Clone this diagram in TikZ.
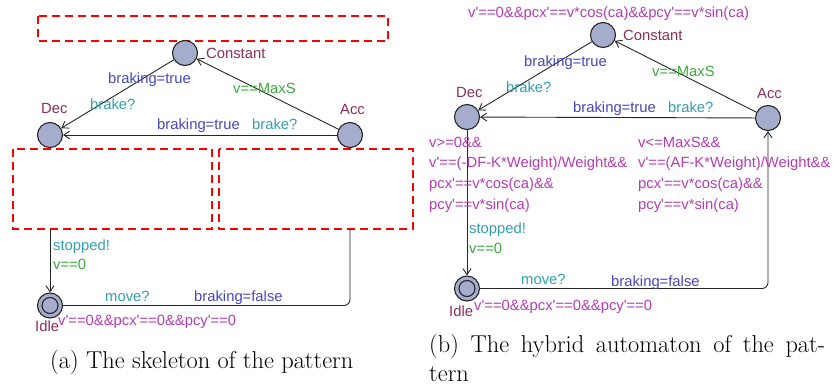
\documentclass[tikz,border=0pt]{standalone}
\usepackage{fontspec}
\newfontfamily\lblfont{Liberation Sans}
\usetikzlibrary{arrows.meta}
\definecolor{locfill}{RGB}{165,172,204}
\definecolor{locname}{RGB}{140,45,90}
\definecolor{assigncol}{RGB}{70,70,190}
\definecolor{synccol}{RGB}{50,160,175}
\definecolor{guardcol}{RGB}{60,170,60}
\definecolor{invcol}{RGB}{180,60,180}
\tikzset{
  loc/.style={circle, draw=black!85, fill=locfill, line width=1.1pt, minimum size=25pt, inner sep=0pt},
  locin/.style={circle, draw=black!85, line width=1.1pt, minimum size=16pt, inner sep=0pt},
  lbl/.style={inner sep=0pt, anchor=base west, font=\lblfont\fontsize{14.8}{17}\selectfont},
  nm/.style={lbl, text=locname},
  asg/.style={lbl, text=assigncol},
  syn/.style={lbl, text=synccol},
  grd/.style={lbl, text=guardcol},
  inv/.style={lbl, text=invcol},
  trans/.style={draw=black!85, line width=0.9pt, -{Straight Barb[length=6pt,width=8pt]}},
  plain/.style={draw=black!85, line width=0.9pt, rounded corners=6pt},
  hole/.style={draw=red, line width=2.2pt, dash pattern=on 8pt off 5pt},
  capt/.style={inner sep=0pt, anchor=base west, font=\fontsize{24.4}{29}\selectfont}
}
\begin{document}
\begin{tikzpicture}[x=1pt,y=-1pt]
\useasboundingbox (0,0) rectangle (837,389);

% ---------------- (a) skeleton ----------------
\draw[hole] (38,16) rectangle (388,41);
\draw[hole] (13,149) rectangle (212,229);
\draw[hole] (219,149) rectangle (413,229);

\node[loc] (conA) at (185,53) {};
\node[loc] (decA) at (50,135) {};
\node[loc] (accA) at (350,135) {};
\node[loc] (idleA) at (50,305.5) {};
\node[locin] (idleAin) at (50,305.5) {};
\coordinate (decAout) at (50,229);
\coordinate (accAin) at (350,229);

\draw[trans] (conA) -- (decA);
\draw[trans] (accA) -- (conA);
\draw[trans] (accA) -- (decA);
\draw[trans] (decAout) -- (idleA);
\draw[plain] (idleA.east) -| (accAin);

\node[nm] (conAname) at (206,58) {Constant};
\node[nm] (decAname) at (41,113) {Dec};
\node[nm] (accAname) at (340,114) {Acc};
\node[nm] (idleAname) at (35,331) {Idle};
\node[asg] (cdA1) at (108,83) {braking=true};
\node[syn] (cdA2) at (90,109) {brake?};
\node[grd] (acA1) at (233,93) {v==MaxS};
\node[asg] (adA1) at (157,129) {braking=true};
\node[syn] (adA2) at (252,129) {brake?};
\node[syn] (diA1) at (53,250) {stopped!};
\node[grd] (diA2) at (53,269) {v==0};
\node[syn] (iaA1) at (105,301) {move?};
\node[asg] (iaA2) at (194,301) {braking=false};
\node[inv] (idleAinv) at (58,325) {v'==0\&\&pcx'==0\&\&pcy'==0};

\node[capt] (captA) at (50,368) {(a) The skeleton of the pattern};

% ---------------- (b) hybrid automaton ----------------
\node[loc] (conB) at (603,35) {};
\node[loc] (decB) at (467,117) {};
\node[loc] (accB) at (768,118) {};
\node[loc] (idleB) at (467,288.5) {};
\node[locin] (idleBin) at (467,288.5) {};

\draw[trans] (conB) -- (decB);
\draw[trans] (accB) -- (conB);
\draw[trans] (accB) -- (decB);
\draw[trans] (decB) -- (idleB);
\draw[trans, rounded corners=6pt] (idleB.east) -| (accB);

\node[inv] (conBinv) at (468,17) {v'==0\&\&pcx'==v*cos(ca)\&\&pcy'==v*sin(ca)};
\node[nm] (conBname) at (623,40) {Constant};
\node[nm] (decBname) at (456,97) {Dec};
\node[nm] (accBname) at (757,98) {Acc};
\node[nm] (idleBname) at (449,316) {Idle};
\node[asg] (cdB1) at (524,66) {braking=true};
\node[syn] (cdB2) at (506,92) {brake?};
\node[grd] (acB1) at (652,76) {v==MaxS};
\node[asg] (adB1) at (573,112) {braking=true};
\node[syn] (adB2) at (668,112) {brake?};

\node[inv] (decBinv1) at (429,147) {v>=0\&\&};
\node[inv] (decBinv2) at (429,167) {v'==(-DF-K*Weight)/Weight\&\&};
\node[inv] (decBinv3) at (429,188) {pcx'==v*cos(ca)\&\&};
\node[inv] (decBinv4) at (429,209) {pcy'==v*sin(ca)};
\node[inv] (accBinv1) at (638,147) {v<=MaxS\&\&};
\node[inv] (accBinv2) at (638,167) {v'==(AF-K*Weight)/Weight\&\&};
\node[inv] (accBinv3) at (638,188) {pcx'==v*cos(ca)\&\&};
\node[inv] (accBinv4) at (638,209) {pcy'==v*sin(ca)};

\node[syn] (diB1) at (469,233) {stopped!};
\node[grd] (diB2) at (469,253) {v==0};
\node[syn] (iaB1) at (521,284) {move?};
\node[asg] (iaB2) at (611,286) {braking=false};
\node[inv] (idleBinv) at (474,310) {v'==0\&\&pcx'==0\&\&pcy'==0};

\node[capt] (captB1) at (429,352) {\makebox[396pt][s]{(b) The hybrid automaton of the pat-}};
\node[capt] (captB2) at (429,381) {tern};
\end{tikzpicture}
\end{document}
